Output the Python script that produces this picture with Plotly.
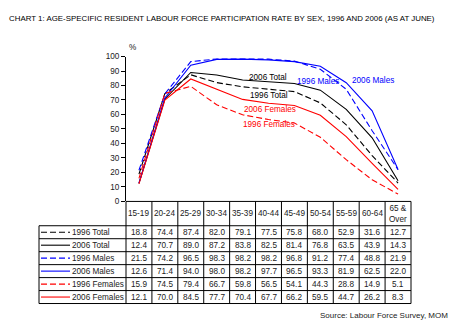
import plotly.graph_objects as go

W, H = 459, 328

categories = ["15-19", "20-24", "25-29", "30-34", "35-39", "40-44", "45-49",
              "50-54", "55-59", "60-64", "65 & Over"]
header_labels = ["15-19", "20-24", "25-29", "30-34", "35-39", "40-44", "45-49",
                 "50-54", "55-59", "60-64", "65 &<br>Over"]

series_names = ["1996 Total", "2006 Total", "1996 Males", "2006 Males",
                "1996 Females", "2006 Females"]
total_1996 = [18.8, 74.4, 87.4, 82.0, 79.1, 77.5, 75.8, 68.0, 52.9, 31.6, 12.7]
total_2006 = [12.4, 70.7, 89.0, 87.2, 83.8, 82.5, 81.4, 76.8, 63.5, 43.9, 14.3]
males_1996 = [21.5, 74.2, 96.5, 98.3, 98.2, 98.2, 96.8, 91.2, 77.4, 48.8, 21.9]
males_2006 = [12.6, 71.4, 94.0, 98.0, 98.2, 97.7, 96.5, 93.3, 81.9, 62.5, 22.0]
females_1996 = [15.9, 74.5, 79.4, 66.7, 59.8, 56.5, 54.1, 44.3, 28.8, 14.9, 5.1]
females_2006 = [12.1, 70.0, 84.5, 77.7, 70.4, 67.7, 66.2, 59.5, 44.7, 26.2, 8.3]
series_values = [total_1996, total_2006, males_1996, males_2006, females_1996, females_2006]
series_colors = ["#000000", "#000000", "#0000FF", "#0000FF", "#FF0000", "#FF0000"]
series_dash = ["6px,3px", "solid", "6px,3px", "solid", "6px,3px", "solid"]

title_text = "CHART 1: AGE-SPECIFIC RESIDENT LABOUR FORCE PARTICIPATION RATE BY SEX, 1996 AND 2006 (AS AT JUNE)"
source_text = "Source: Labour Force Survey, MOM"

FONT = "Liberation Sans, Arial, sans-serif"
FS = 8.2

def px(x):
    return x / W

def py(y):
    return 1 - y / H

# layout geometry (pixels)
X0, X1 = 126, 411          # plot / table category area
Y_TOP, Y_BOT = 54, 203     # y=100 and y=0
TBL_LEFT = 39
HDR_BOT = 228
ROW_H = 13.33
n = len(categories)
colw = (X1 - X0) / n

fig = go.Figure()
for name, vals, col, dash in zip(series_names, series_values, series_colors, series_dash):
    fig.add_trace(go.Scatter(x=categories, y=vals, mode="lines", name=name,
                             line=dict(color=col, width=1.1, dash=dash),
                             showlegend=False, hoverinfo="skip"))

shapes = []
annotations = []

def hline(x0, x1, y):
    shapes.append(dict(type="line", xref="paper", yref="paper",
                       x0=px(x0), x1=px(x1), y0=py(y), y1=py(y),
                       line=dict(color="black", width=1)))

def vline(x, y0, y1):
    shapes.append(dict(type="line", xref="paper", yref="paper",
                       x0=px(x), x1=px(x), y0=py(y0), y1=py(y1),
                       line=dict(color="black", width=1)))

TBL_BOT = HDR_BOT + ROW_H * len(series_names)
hline(X0, X1, Y_BOT)
for i in range(len(series_names) + 1):
    y = HDR_BOT + i * ROW_H
    hline(TBL_LEFT, X1, y)
for j in range(n + 1):
    vline(X0 + j * colw, Y_BOT, TBL_BOT)
vline(TBL_LEFT, HDR_BOT, TBL_BOT)

for j, lab in enumerate(header_labels):
    annotations.append(dict(xref="paper", yref="paper", x=px(X0 + (j + 0.5) * colw),
                            y=py((Y_BOT + HDR_BOT) / 2), text=lab, showarrow=False,
                            xanchor="center", yanchor="middle",
                            font=dict(family=FONT, size=FS, color="#222222")))

for i, (name, vals, col, dash) in enumerate(zip(series_names, series_values, series_colors, series_dash)):
    yc = HDR_BOT + (i + 0.5) * ROW_H
    shapes.append(dict(type="line", xref="paper", yref="paper",
                       x0=px(41), x1=px(70), y0=py(yc), y1=py(yc),
                       line=dict(color=col, width=1.1, dash=dash)))
    annotations.append(dict(xref="paper", yref="paper", x=px(70), y=py(yc),
                            text=name, showarrow=False, xanchor="left", yanchor="middle",
                            font=dict(family=FONT, size=FS, color="#222222")))
    for j, v in enumerate(vals):
        annotations.append(dict(xref="paper", yref="paper", x=px(X0 + (j + 0.5) * colw),
                                y=py(yc), text=f"{v:.1f}", showarrow=False,
                                xanchor="center", yanchor="middle",
                                font=dict(family=FONT, size=FS, color="#222222")))

labels = [("2006 Total", 247, 76, "#000000"), ("1996 Total", 248, 94, "#000000"),
          ("2006 Females", 242, 108, "#FF0000"), ("1996 Females", 241, 124, "#FF0000"),
          ("1996 Males", 295, 80, "#0000FF"), ("2006 Males", 350, 79, "#0000FF")]
for t, x, y, c in labels:
    annotations.append(dict(xref="paper", yref="paper", x=px(x), y=py(y), text=t,
                            showarrow=False, xanchor="left", yanchor="middle",
                            font=dict(family=FONT, size=FS, color=c)))

annotations.append(dict(xref="paper", yref="paper", x=px(7), y=py(15), text=title_text,
                        showarrow=False, xanchor="left", yanchor="middle",
                        font=dict(family=FONT, size=7.9, color="#000000")))
annotations.append(dict(xref="paper", yref="paper", x=px(132), y=py(45), text="%",
                        showarrow=False, xanchor="center", yanchor="middle",
                        font=dict(family=FONT, size=FS, color="#222222")))
annotations.append(dict(xref="paper", yref="paper", x=px(450), y=py(320), text=source_text,
                        showarrow=False, xanchor="right", yanchor="middle",
                        font=dict(family=FONT, size=8, color="#222222")))

fig.update_layout(
    width=W, height=H, margin=dict(l=0, r=0, t=0, b=0),
    paper_bgcolor="white", plot_bgcolor="white",
    xaxis=dict(domain=[px(X0), px(X1)], range=[-0.5, n - 0.5], type="category",
               showticklabels=False, showgrid=False, zeroline=False, showline=False,
               ticks=""),
    yaxis=dict(domain=[py(Y_BOT), py(Y_TOP)], range=[0, 100], dtick=10,
               showgrid=False, zeroline=False, showline=True, linecolor="black",
               linewidth=1, ticks="outside", ticklen=4, tickcolor="black",
               tickfont=dict(family=FONT, size=FS, color="#222222")),
    shapes=shapes, annotations=annotations,
)

fig.write_html("out.html")
